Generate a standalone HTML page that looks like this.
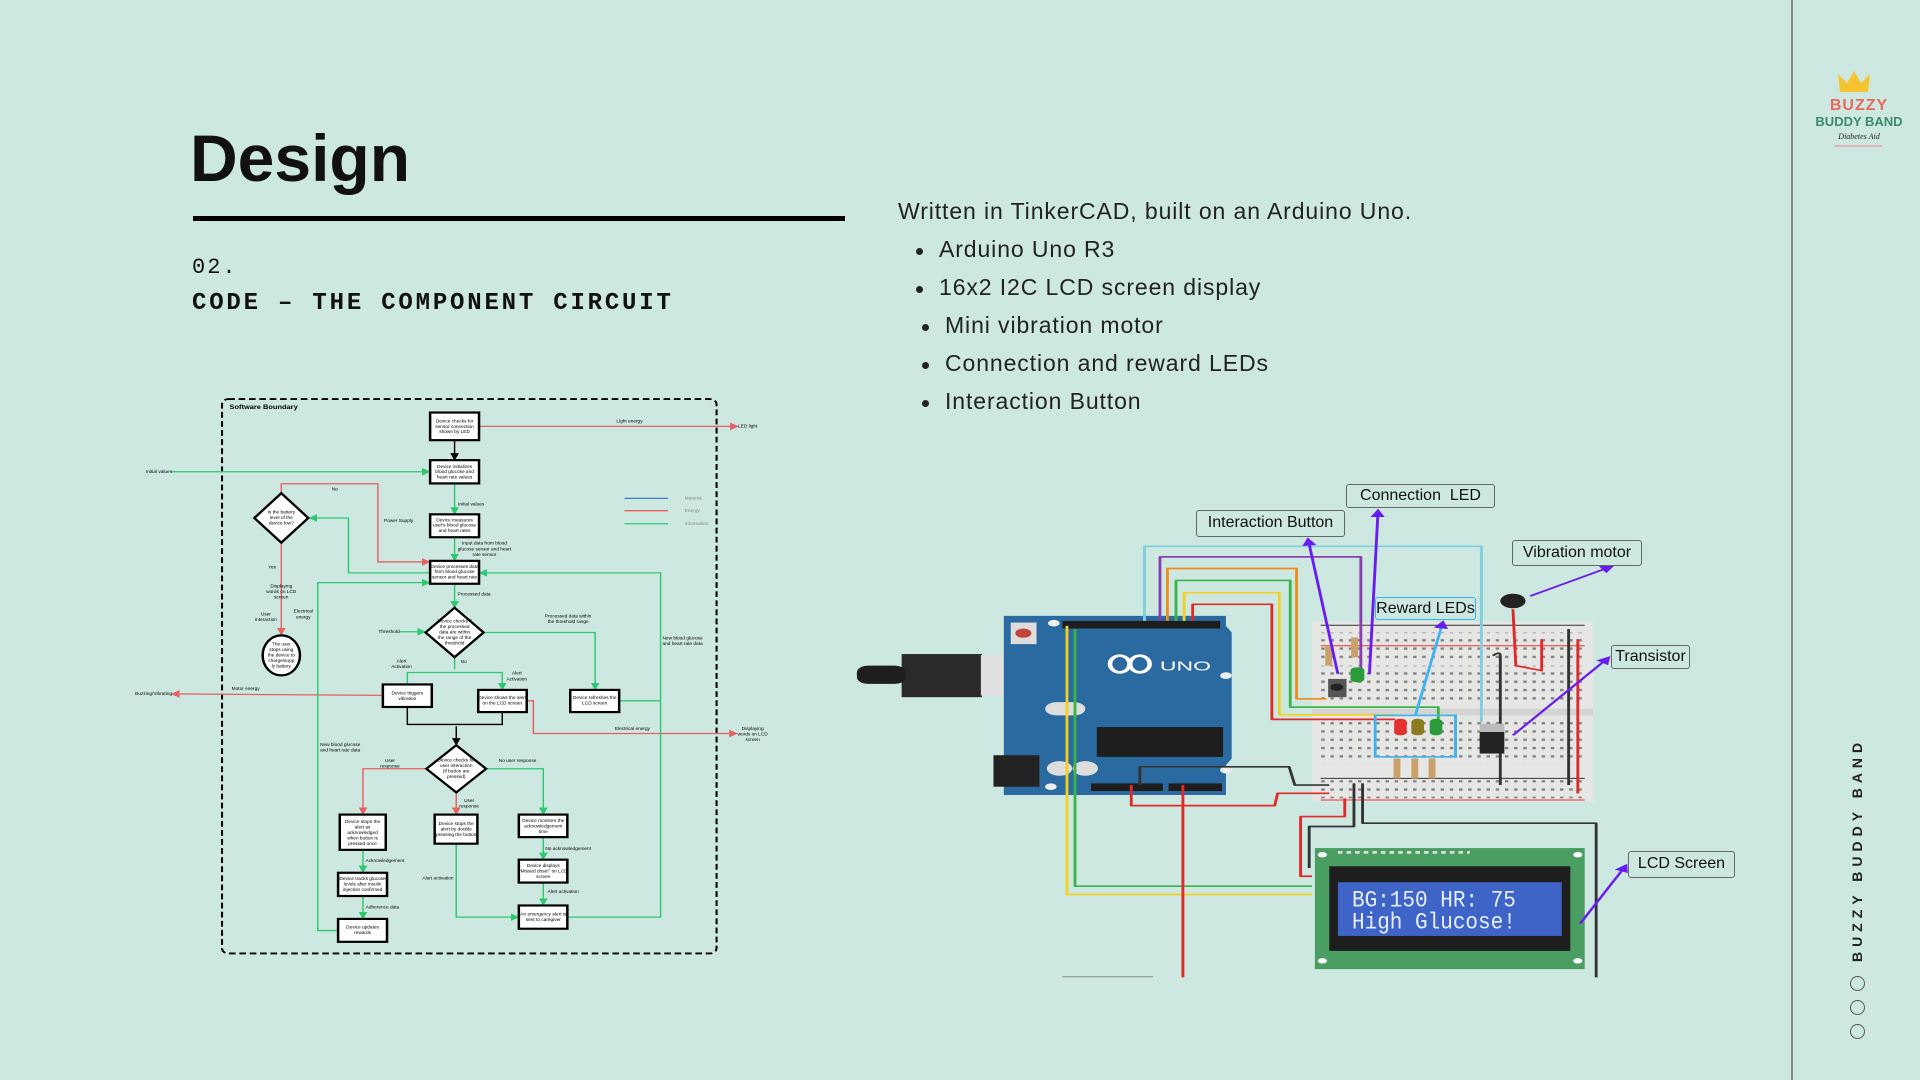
<!DOCTYPE html>
<html><head><meta charset="utf-8"><style>
*{margin:0;padding:0;box-sizing:border-box}
body{width:1920px;height:1080px;background:#cde8e0;position:relative;overflow:hidden;font-family:"Liberation Sans",sans-serif;color:#111}
.abs{position:absolute}
.lbl{position:absolute;border:1.5px solid #666;border-radius:3px;font-size:16px;color:#111;text-align:center;line-height:24px;white-space:nowrap;background:#cde8e0}
.b{position:absolute;left:939px;font-size:23px;letter-spacing:.9px;color:#222}
.b:before{content:"";position:absolute;left:-23px;top:12px;width:7px;height:7px;border-radius:50%;background:#222}
</style></head><body>

<div class="abs" style="left:190px;top:120px;font-size:66px;font-weight:bold;color:#111">Design</div>
<div class="abs" style="left:193px;top:216px;width:652px;height:5px;background:#000"></div>
<div class="abs" style="left:192px;top:255px;font-family:'Liberation Mono',monospace;font-size:22px;letter-spacing:2px">02.</div>
<div class="abs" style="left:192px;top:290px;font-family:'Liberation Mono',monospace;font-size:24px;letter-spacing:2.8px;font-weight:bold">CODE – THE COMPONENT CIRCUIT</div>

<div class="abs" style="left:898px;top:198px;font-size:23px;letter-spacing:.9px;color:#222">Written in TinkerCAD, built on an Arduino Uno.</div>
<div class="b" style="top:236px">Arduino Uno R3</div>
<div class="b" style="top:274px">16x2 I2C LCD screen display</div>
<div class="b" style="top:312px;left:945px">Mini vibration motor</div>
<div class="b" style="top:350px;left:945px">Connection and reward LEDs</div>
<div class="b" style="top:388px;left:945px">Interaction Button</div>

<div class="abs" style="left:1791px;top:0;width:2px;height:1080px;background:#888"></div>
<svg class="abs" style="left:1812px;top:68px" width="95" height="85" viewBox="0 0 95 85">
<path d="M28 24 L26 6 L35 15 L42 3 L49 15 L58 6 L56 24 Z" fill="#f5c531"/>
<text x="47" y="42" text-anchor="middle" font-family="Liberation Sans" font-weight="bold" font-size="16" fill="#e86a5a" letter-spacing="1">BUZZY</text>
<text x="47" y="58" text-anchor="middle" font-family="Liberation Sans" font-weight="bold" font-size="13" fill="#3c8a6a">BUDDY BAND</text>
<text x="47" y="71" text-anchor="middle" font-family="Liberation Serif" font-style="italic" font-size="8" fill="#222">Diabetes Aid</text>
<line x1="22" y1="78" x2="70" y2="78" stroke="#f0a0a8" stroke-width="1.5"/>
</svg>
<div class="abs" style="left:1857px;top:854px;width:0;height:0">
<div style="position:absolute;left:-110px;top:-10px;width:220px;text-align:center;transform:rotate(-90deg);font-size:14px;font-weight:bold;letter-spacing:5px;color:#222;white-space:nowrap">BUZZY BUDDY BAND</div></div>
<div class="abs" style="left:1850px;top:976px;width:15px;height:15px;border:1.5px solid #555;border-radius:50%"></div>
<div class="abs" style="left:1850px;top:1000px;width:15px;height:15px;border:1.5px solid #555;border-radius:50%"></div>
<div class="abs" style="left:1850px;top:1024px;width:15px;height:15px;border:1.5px solid #555;border-radius:50%"></div>

<svg class="abs" style="left:130px;top:390px;overflow:visible" width="650" height="570" viewBox="0 0 1568 1568" preserveAspectRatio="none" font-family="Liberation Sans" font-size="11.5">
<defs>
<marker id="ar" markerWidth="6" markerHeight="6" refX="5" refY="3" orient="auto"><path d="M0,0 L6,3 L0,6z" fill="#e8605f"/></marker>
<marker id="ag" markerWidth="6" markerHeight="6" refX="5" refY="3" orient="auto"><path d="M0,0 L6,3 L0,6z" fill="#2ec872"/></marker>
<marker id="ak" markerWidth="6" markerHeight="6" refX="5" refY="3" orient="auto"><path d="M0,0 L6,3 L0,6z" fill="#000"/></marker>
</defs>
<rect x="222" y="25" width="1193" height="1525" rx="15" fill="none" stroke="#000" stroke-width="5" stroke-dasharray="16 9"/>
<text x="240" y="52" font-size="18" font-weight="bold">Software Boundary</text>
<g fill="none" stroke-width="3.5">
<g stroke="#e8605f">
<path d="M842 100 H1465" marker-end="url(#ar)"/>
<path d="M365 284 V258 H598 V473 H722" marker-end="url(#ar)"/>
<path d="M365 420 V672" marker-end="url(#ar)"/>
<path d="M610 840 L102 836" marker-end="url(#ar)"/>
<path d="M957 855 H973 V945 H1463" marker-end="url(#ar)"/>
<path d="M715 1042 H562 V1166" marker-end="url(#ar)"/>
<path d="M787 1107 V1166" marker-end="url(#ar)"/>
</g>
<g stroke="#2ec872">
<path d="M100 225 H722" marker-end="url(#ag)"/>
<path d="M783 257 V340" marker-end="url(#ag)"/>
<path d="M783 405 V468" marker-end="url(#ag)"/>
<path d="M724 503 H527 V352 H434" marker-end="url(#ag)"/>
<path d="M783 533 V598" marker-end="url(#ag)"/>
<path d="M650 665 H711" marker-end="url(#ag)"/>
<path d="M853 667 H1122 V823" marker-end="url(#ag)"/>
<path d="M783 735 V768"/>
<path d="M669 808 V777 H898 V823" marker-end="url(#ag)"/>
<path d="M1180 855 H1280 V503 H844" marker-end="url(#ag)"/>
<path d="M502 1487 H453 V530 H722" marker-end="url(#ag)"/>
<path d="M858 1042 H997 V1166" marker-end="url(#ag)"/>
<path d="M562 1265 V1326" marker-end="url(#ag)"/>
<path d="M562 1392 V1453" marker-end="url(#ag)"/>
<path d="M997 1230 V1290" marker-end="url(#ag)"/>
<path d="M997 1355 V1416" marker-end="url(#ag)"/>
<path d="M787 1248 V1450 H936" marker-end="url(#ag)"/>
<path d="M1055 1450 H1280 V855"/>
</g>
<g stroke="#000">
<path d="M783 138 V191" marker-end="url(#ak)"/>
<path d="M669 872 V920 H898 V886"/>
<path d="M787 925 V975" marker-end="url(#ak)"/>
</g>
<path d="M1193 298 H1298" stroke="#3a7dc8"/>
<path d="M1193 332 H1298" stroke="#e8605f"/>
<path d="M1193 368 H1298" stroke="#2ec872"/>
</g>
<g fill="#fff" stroke="#000" stroke-width="6">
<rect x="724" y="62" width="118" height="76"/>
<rect x="724" y="193" width="118" height="64"/>
<rect x="724" y="342" width="118" height="63"/>
<rect x="724" y="470" width="118" height="63"/>
<polygon points="365,284 430,352 365,420 300,352"/>
<ellipse cx="365" cy="730" rx="45" ry="55"/>
<polygon points="783,599 853,667 783,735 713,667"/>
<rect x="610" y="810" width="118" height="62"/>
<rect x="840" y="825" width="117" height="61"/>
<rect x="1062" y="825" width="118" height="61"/>
<polygon points="787,977 859,1042 787,1107 715,1042"/>
<rect x="506" y="1168" width="111" height="97"/>
<rect x="735" y="1168" width="103" height="80"/>
<rect x="938" y="1168" width="117" height="62"/>
<rect x="502" y="1328" width="118" height="64"/>
<rect x="938" y="1292" width="117" height="63"/>
<rect x="502" y="1455" width="118" height="63"/>
<rect x="938" y="1418" width="117" height="64"/>
</g>
<g text-anchor="middle" fill="#000">
<text x="783" y="90">Device checks for</text><text x="783" y="104">sensor connection</text><text x="783" y="118">shown by LED</text>
<text x="783" y="215">Device initializes</text><text x="783" y="229">blood glucose and</text><text x="783" y="243">heart rate values</text>
<text x="783" y="362">Device measures</text><text x="783" y="376">user's blood glucose</text><text x="783" y="390">and heart rates</text>
<text x="783" y="490">Device processes data</text><text x="783" y="504">from blood glucose</text><text x="783" y="518">sensor and heart rate</text>
<text x="365" y="340">Is the battery</text><text x="365" y="355">level of the</text><text x="365" y="370">device low?</text>
<text x="365" y="703">The user</text><text x="365" y="718">stops using</text><text x="365" y="733">the device to</text><text x="365" y="748">charge/supp</text><text x="365" y="763">ly battery</text>
<text x="783" y="640">Device checks if</text><text x="783" y="655">the processed</text><text x="783" y="670">data are within</text><text x="783" y="685">the range of the</text><text x="783" y="700">threshold</text>
<text x="669" y="838">Device triggers</text><text x="669" y="853">vibration</text>
<text x="898" y="850">Device shows the alert</text><text x="898" y="865">on the LCD screen</text>
<text x="1121" y="850">Device refreshes the</text><text x="1121" y="865">LCD screen</text>
<text x="787" y="1022">Device checks for</text><text x="787" y="1037">user interaction</text><text x="787" y="1052">(if button are</text><text x="787" y="1067">pressed)</text>
<text x="561" y="1191">Device stops the</text><text x="561" y="1206">alert as</text><text x="561" y="1221">acknowledged</text><text x="561" y="1236">when button is</text><text x="561" y="1251">pressed once</text>
<text x="787" y="1197">Device stops the</text><text x="787" y="1212">alert by double</text><text x="787" y="1227">pressing the button</text>
<text x="997" y="1188">Device monitors the</text><text x="997" y="1203">acknowledgement</text><text x="997" y="1218">time</text>
<text x="561" y="1348">Device tracks glucose</text><text x="561" y="1363">levels after insulin</text><text x="561" y="1378">injection confirmed</text>
<text x="997" y="1312">Device displays</text><text x="997" y="1327">"Missed dose!" on LCD</text><text x="997" y="1342">screen</text>
<text x="561" y="1482">Device updates</text><text x="561" y="1497">rewards</text>
<text x="997" y="1446">An emergency alert is</text><text x="997" y="1461">sent to caregiver</text>
<text x="1205" y="90">Light energy</text><text x="70" y="228">Initial values</text><text x="823" y="318">Initial values</text>
<text x="855" y="425">Input data from blood</text><text x="855" y="441">glucose sensor and heart</text><text x="855" y="456">rate sensor</text>
<text x="494" y="277">No</text><text x="648" y="363">Power Supply</text><text x="343" y="491">Yes</text>
<text x="365" y="544">Displaying</text><text x="365" y="559">words on LCD</text><text x="365" y="574">screen</text>
<text x="328" y="620">User</text><text x="328" y="635">interaction</text><text x="418" y="612">Electrical</text><text x="418" y="628">energy</text>
<text x="830" y="566">Processed data</text><text x="625" y="668">Threshold</text>
<text x="1057" y="626">Processed data within</text><text x="1057" y="641">the threshold range</text>
<text x="805" y="751">No</text><text x="655" y="750">Alert</text><text x="655" y="765">Activation</text><text x="933" y="783">Alert</text><text x="933" y="799">Activation</text>
<text x="279" y="825">Motor energy</text><text x="57" y="839">Buzzing/Vibrating</text>
<text x="1212" y="935">Electrical energy</text><text x="1502" y="935">Displaying</text><text x="1502" y="950">words on LCD</text><text x="1502" y="965">screen</text>
<text x="1333" y="686">New blood glucose</text><text x="1333" y="701">and heart rate data</text>
<text x="507" y="980">New blood glucose</text><text x="507" y="995">and heart rate data</text>
<text x="627" y="1023">User</text><text x="627" y="1038">response</text><text x="818" y="1134">User</text><text x="818" y="1149">response</text>
<text x="935" y="1023">No user response</text><text x="615" y="1299">Acknowledgement</text><text x="609" y="1427">Adherence data</text>
<text x="1057" y="1265">No acknowledgement</text><text x="1045" y="1384">Alert activation</text><text x="743" y="1347">Alert activation</text>
<text x="1490" y="103">LED light</text>
</g>
<g fill="#888"><text x="1338" y="301">Material</text><text x="1338" y="335">Energy</text><text x="1338" y="371">Information</text></g>
</svg>

<svg class="abs" style="left:850px;top:470px" width="900" height="520" viewBox="0 0 1568 1568" preserveAspectRatio="none">
<defs><marker id="ap" markerWidth="5" markerHeight="5" refX="4" refY="2.5" orient="auto"><path d="M0,0 L5,2.5 L0,5z" fill="#6a1cf0"/></marker>
<pattern id="dots" width="16" height="25" patternUnits="userSpaceOnUse"><rect x="5" y="10" width="6" height="7" fill="#555"/></pattern></defs>
<rect x="805" y="458" width="490" height="542" fill="#e6e6e4"/>
<rect x="820" y="490" width="460" height="80" fill="url(#dots)" opacity=".7"/>
<rect x="820" y="590" width="460" height="115" fill="url(#dots)" opacity=".7"/>
<rect x="805" y="720" width="490" height="20" fill="#d4d4d2"/>
<rect x="820" y="755" width="460" height="130" fill="url(#dots)" opacity=".7"/>
<rect x="820" y="935" width="460" height="55" fill="url(#dots)" opacity=".7"/>
<g stroke-width="3"><line x1="820" y1="468" x2="1280" y2="468" stroke="#333"/><line x1="820" y1="530" x2="1280" y2="530" stroke="#e33"/><line x1="820" y1="930" x2="1280" y2="930" stroke="#333"/><line x1="820" y1="995" x2="1280" y2="995" stroke="#e33"/></g>
<rect x="90" y="555" width="140" height="130" fill="#2a2a2a"/><rect x="12" y="590" width="85" height="55" rx="20" fill="#1e1e1e"/>
<rect x="228" y="558" width="97" height="122" fill="#e0e0e0"/>
<path d="M268 440 H655 V470 L665 490 V870 L655 890 V980 H268 Z" fill="#2b6aa0"/>
<rect x="280" y="460" width="45" height="65" fill="#ddd"/><circle cx="302" cy="492" r="14" fill="#c0453a"/>
<rect x="370" y="455" width="275" height="23" fill="#1d1d1d"/>
<rect x="430" y="775" width="220" height="90" fill="#1e1e1e"/>
<rect x="250" y="860" width="80" height="95" fill="#222"/>
<circle cx="365" cy="900" r="22" fill="#ddd"/><circle cx="410" cy="900" r="22" fill="#ddd"/>
<rect x="340" y="700" width="70" height="40" rx="20" fill="#ddd"/>
<rect x="420" y="945" width="125" height="23" fill="#1d1d1d"/><rect x="555" y="945" width="93" height="23" fill="#1d1d1d"/>
<circle cx="355" cy="462" r="10" fill="#eee"/><circle cx="655" cy="620" r="10" fill="#eee"/><circle cx="655" cy="905" r="10" fill="#eee"/><circle cx="350" cy="955" r="10" fill="#eee"/>
<ellipse cx="470" cy="585" rx="17" ry="25" fill="none" stroke="#fff" stroke-width="8"/><ellipse cx="505" cy="585" rx="17" ry="25" fill="none" stroke="#fff" stroke-width="8"/>
<text x="540" y="605" fill="#fff" font-family="Liberation Sans" font-size="40">UNO</text>
<g fill="none" stroke-width="5" stroke-linejoin="round">
<path d="M513 455 V230 H1100 V760" stroke="#7fcfe0"/>
<path d="M540 455 V262 H890 V615" stroke="#8a3fb0"/>
<path d="M553 455 V297 H778 V690 H830" stroke="#f08c1c"/>
<path d="M568 455 V333 H767 V715 H1025 V760" stroke="#3cb44a"/>
<path d="M582 455 V370 H748 V738 H950" stroke="#f2d024"/>
<path d="M597 455 V405 H735 V752 H950" stroke="#e02a2a"/>
<path d="M378 470 V1280 H805" stroke="#f2d024"/>
<path d="M392 480 V1255 H805" stroke="#3cb44a"/>
<path d="M505 950 V895 H765 L775 950 H835" stroke="#333"/>
<path d="M490 950 V1012 H740 L745 975 H835" stroke="#e02a2a"/>
<path d="M580 950 V1530" stroke="#e02a2a"/>
<path d="M862 990 V1045 H785 V1225 H805" stroke="#e02a2a"/>
<path d="M878 945 V1075 H800 V1200" stroke="#333"/>
<path d="M893 945 V1065 H1300 V1530" stroke="#333"/>
<path d="M1133 950 V560 Q1133 545 1120 560" stroke="#333"/>
<path d="M1252 480 V950" stroke="#333"/><path d="M1268 510 V975" stroke="#e02a2a"/>
<path d="M1155 420 L1160 590 L1205 605 V510" stroke="#e02a2a"/>
</g>
<circle cx="1155" cy="395" r="22" fill="#222"/>
<rect x="872" y="595" width="24" height="45" rx="10" fill="#2a9a3a"/>
<rect x="833" y="630" width="32" height="55" fill="#555"/><circle cx="848" cy="655" r="11" fill="#222"/>
<rect x="948" y="750" width="22" height="50" rx="10" fill="#e53030"/>
<rect x="978" y="750" width="22" height="50" rx="10" fill="#8a7a20"/>
<rect x="1010" y="750" width="22" height="50" rx="10" fill="#2a9a3a"/>
<g fill="#c9a26a"><rect x="828" y="530" width="12" height="60"/><rect x="873" y="505" width="12" height="60"/><rect x="947" y="870" width="12" height="60"/><rect x="978" y="870" width="12" height="60"/><rect x="1008" y="870" width="12" height="60"/></g>
<rect x="1097" y="790" width="43" height="65" fill="#222"/><rect x="1097" y="765" width="43" height="25" fill="#bbb"/>
<rect x="915" y="740" width="140" height="125" fill="none" stroke="#3fb2f0" stroke-width="5"/>
<rect x="810" y="1140" width="470" height="365" fill="#4a9e62"/>
<rect x="835" y="1195" width="420" height="255" fill="#1e1e1e"/>
<rect x="850" y="1243" width="390" height="162" fill="#3e64c8"/>
<g fill="#fff"><circle cx="823" cy="1160" r="8"/><circle cx="1268" cy="1160" r="8"/><circle cx="823" cy="1480" r="8"/><circle cx="1268" cy="1480" r="8"/></g>
<line x1="850" y1="1153" x2="1080" y2="1153" stroke="#ddd" stroke-width="8" stroke-dasharray="8 7"/>
<line x1="370" y1="1528" x2="528" y2="1528" stroke="#888" stroke-width="3"/>
<g stroke="#6a1cf0" stroke-width="5" fill="none">
<path d="M850 615 L798 208" marker-end="url(#ap)"/>
<path d="M905 615 L920 122" marker-end="url(#ap)"/>
<path d="M1185 380 L1328 290" marker-end="url(#ap)"/>
<path d="M1155 800 L1322 565" marker-end="url(#ap)"/>
<path d="M1272 1368 L1352 1192" marker-end="url(#ap)"/>
<path d="M985 740 L1033 458" stroke="#3fb2f0" marker-end="url(#ap)"/>
</g>
</svg>
<div class="abs" style="left:1352px;top:891px;font-family:'Liberation Mono',monospace;font-size:21px;line-height:20px;color:#e8eeff;transform:scaleY(1.1);transform-origin:top left">BG:150 HR: 75<br>High Glucose!</div>
<div class="lbl" style="left:1196px;top:510px;width:149px;height:27px">Interaction Button</div>
<div class="lbl" style="left:1346px;top:484px;width:149px;height:24px;line-height:22px">Connection&nbsp; LED</div>
<div class="lbl" style="left:1512px;top:540px;width:130px;height:26px">Vibration motor</div>
<div class="lbl" style="left:1375px;top:597px;width:101px;height:23px;line-height:21px;border-color:#3fb2f0">Reward LEDs</div>
<div class="lbl" style="left:1611px;top:645px;width:79px;height:24px;line-height:22px">Transistor</div>
<div class="lbl" style="left:1628px;top:851px;width:107px;height:27px">LCD Screen</div>
</body></html>
